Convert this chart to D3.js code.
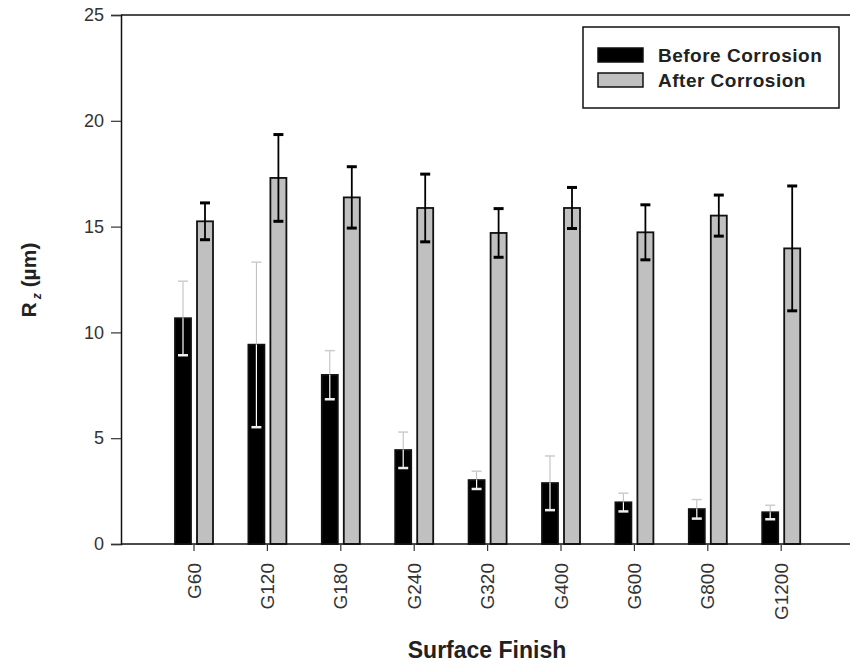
<!DOCTYPE html>
<html><head><meta charset="utf-8">
<script src="https://cdn.jsdelivr.net/npm/d3@7/dist/d3.min.js"></script>
<style>body{margin:0;background:#fff}svg{display:block;font-family:"Liberation Sans",Arial,sans-serif}</style>
</head><body>
<svg id="c" width="850" height="665"></svg>
<script>
const categories = ["G60","G120","G180","G240","G320","G400","G600","G800","G1200"];
const seriesNames = ["Before Corrosion","After Corrosion"];
const beforeValues = [10.67, 9.42, 7.99, 4.44, 3.02, 2.88, 1.97, 1.65, 1.50];
const beforeErrors = [1.75, 3.9, 1.15, 0.85, 0.42, 1.28, 0.43, 0.45, 0.33];
const afterValues = [15.25, 17.30, 16.38, 15.88, 14.70, 15.88, 14.73, 15.52, 13.97];
const afterErrors = [0.87, 2.05, 1.45, 1.6, 1.15, 0.97, 1.3, 0.97, 2.95];
const yTicks = [0,5,10,15,20,25];

(function(){
const svg = d3.select("#c");
const mLeft = 121, mRight = 850, mTop = 15, mBottom = 544;
const x = d3.scaleBand().domain(categories).range([157.3, 817.9]);
const bw = x.bandwidth();
const xs = d3.scaleBand().domain(seriesNames).range([bw/2 - 19, bw/2 + 19]).paddingInner(0.2727);
const y = d3.scaleLinear().domain([0,25]).range([mBottom, mTop]);

const data = categories.map((c,i)=>[
  {c, s: seriesNames[0], v: beforeValues[i], e: beforeErrors[i]},
  {c, s: seriesNames[1], v: afterValues[i], e: afterErrors[i]}
]).flat();

// frame top line
svg.append("line").attr("x1",mLeft).attr("x2",mRight).attr("y1",mTop).attr("y2",mTop).attr("stroke","#111").attr("stroke-width",1.5);

// bars
const g = svg.append("g");
g.selectAll("rect.bar").data(data).join("rect")
  .attr("x", d=>x(d.c)+xs(d.s)).attr("width", xs.bandwidth())
  .attr("y", d=>y(d.v)).attr("height", d=>y(0)-y(d.v))
  .attr("fill", d=>d.s===seriesNames[0] ? "#000" : "#c0c0c0")
  .attr("stroke","#111").attr("stroke-width",1.8);

// error bars
data.forEach(d=>{
  const cx = x(d.c)+xs(d.s)+xs.bandwidth()/2;
  if (d.s===seriesNames[0]) {
    g.append("line").attr("x1",cx).attr("x2",cx).attr("y1",y(d.v)).attr("y2",y(d.v+d.e)).attr("stroke","#bbb").attr("stroke-width",1);
    g.append("line").attr("x1",cx-5).attr("x2",cx+5).attr("y1",y(d.v+d.e)).attr("y2",y(d.v+d.e)).attr("stroke","#ccc").attr("stroke-width",1.5);
    g.append("line").attr("x1",cx).attr("x2",cx).attr("y1",y(d.v)).attr("y2",y(d.v-d.e)).attr("stroke","#fff").attr("stroke-width",1.2);
    g.append("line").attr("x1",cx-5).attr("x2",cx+5).attr("y1",y(d.v-d.e)).attr("y2",y(d.v-d.e)).attr("stroke","#eee").attr("stroke-width",2.5);
  } else {
    g.append("line").attr("x1",cx).attr("x2",cx).attr("y1",y(d.v+d.e)).attr("y2",y(d.v-d.e)).attr("stroke","#000").attr("stroke-width",1.8);
    [d.v+d.e, d.v-d.e].forEach(t=>{
      g.append("line").attr("x1",cx-5).attr("x2",cx+5).attr("y1",y(t)).attr("y2",y(t)).attr("stroke","#000").attr("stroke-width",3);
    });
  }
});

// y axis
const ya = svg.append("g").attr("transform",`translate(${mLeft},0)`)
  .call(d3.axisLeft(y).tickValues(yTicks).tickSize(10).tickPadding(7));
ya.select(".domain").attr("stroke","#111").attr("stroke-width",1.5);
ya.selectAll(".tick line").attr("stroke","#333").attr("stroke-width",1.2);
ya.selectAll("text").attr("font-size",18).attr("fill","#333");

// x axis
const xa = svg.append("g").attr("transform",`translate(0,${mBottom})`)
  .call(d3.axisBottom(x).tickSize(7).tickSizeOuter(0));
xa.select(".domain").attr("d",`M${mLeft},0H${mRight}`).attr("stroke","#111").attr("stroke-width",1.5);
xa.selectAll(".tick line").attr("stroke","#333").attr("stroke-width",1.2);
xa.selectAll("text").attr("font-size",19).attr("fill","#333")
  .attr("transform","rotate(-90)").attr("text-anchor","end")
  .attr("x",-19).attr("y",0).attr("dy","0.35em");

// axis titles
svg.append("text").attr("x",487).attr("y",658).attr("text-anchor","middle")
  .attr("font-size",23).attr("font-weight","bold").attr("fill","#222").text("Surface Finish");
const yt = svg.append("text").attr("transform","translate(36,280) rotate(-90)").attr("text-anchor","middle")
  .attr("font-size",21).attr("font-weight","bold").attr("fill","#222");
yt.append("tspan").text("R");
yt.append("tspan").attr("font-size",12).attr("font-style","italic").attr("dy",5).attr("dx",3).text("z");
yt.append("tspan").attr("dy",-5).text(" (µm)");

// legend
const lg = svg.append("g");
lg.append("rect").attr("x",583).attr("y",27).attr("width",256).attr("height",81).attr("fill","#fff").attr("stroke","#111").attr("stroke-width",1.5);
seriesNames.forEach((s,i)=>{
  const yy = 48 + i*25;
  lg.append("rect").attr("x",598).attr("y",yy).attr("width",45).attr("height",14)
    .attr("fill", i===0 ? "#000" : "#c0c0c0").attr("stroke","#111").attr("stroke-width",1.5);
  lg.append("text").attr("x",658).attr("y",yy+14).attr("font-size",19).attr("letter-spacing",0.5).attr("font-weight","bold").attr("fill","#222").text(s);
});
})();
</script>
</body></html>
